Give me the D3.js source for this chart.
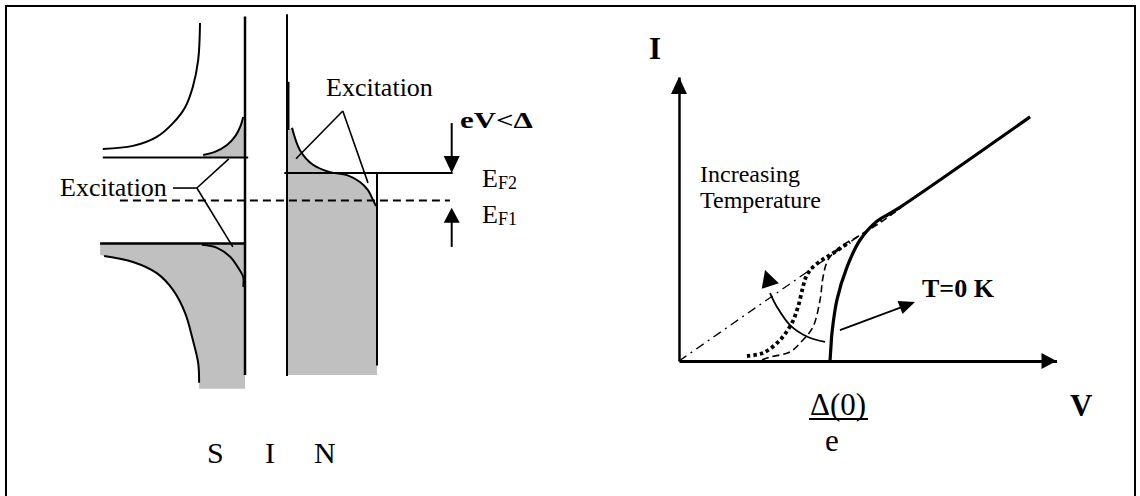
<!DOCTYPE html>
<html>
<head>
<meta charset="utf-8">
<script src="https://cdn.jsdelivr.net/npm/d3@7"></script>
<style>
  body { margin: 0; background: #fff; }
  svg text { font-family: "Liberation Serif", "Times New Roman", serif; fill: #000; }
</style>
</head>
<body>
<div id="canvas"></div>
<script>
// ---- Left panel: S-I-N energy diagram (dos units, energy in units of the gap) ----
// [dos, E] pairs on the superconductor side
const sUpperDos = [[1.00, 4.13], [1.04, 3.27], [1.16, 2.64], [1.33, 2.17], [1.60, 1.80], [1.96, 1.48], [2.49, 1.27], [3.16, 1.20]];
const sLowerDos = [[3.13, -1.29], [2.49, -1.43], [1.96, -1.69], [1.60, -2.08], [1.33, -2.62], [1.16, -3.24], [1.04, -3.78], [1.02, -4.24]];
const sUpperExc = [[0.93, 1.06], [0.67, 1.13], [0.40, 1.29], [0.20, 1.52], [0.09, 1.76], [0.04, 1.94]];
const sLowerExc = [[0.96, -1.03], [0.62, -1.10], [0.33, -1.31], [0.16, -1.55], [0.04, -1.78], [0.04, -2.01]];
// [occupancy, E] pairs on the normal metal side
const nFermi = [[0.056, 1.69], [0.144, 1.17], [0.289, 0.83], [0.478, 0.66], [0.667, 0.59], [0.811, 0.43], [0.900, 0.24], [0.956, 0.01], [0.989, -0.13]];
const eF1 = 0, eF2 = 0.64;
const bandTop = 4.28, bandBottomS = -4.38, bandBottomN = -4.06;

// ---- Right panel: I-V curves (V in units of Delta(0)/e) ----
const ohmic = [[0, 0], [2.325, 1.616]];
const curveT0 = [[1.000, 0], [1.007, 0.106], [1.013, 0.185], [1.046, 0.404], [1.113, 0.623], [1.199, 0.801], [1.311, 0.925], [1.444, 1.005], [2.325, 1.616]];
const curveT1 = [[0.550, 0.007], [0.603, 0.026], [0.735, 0.060], [0.821, 0.139], [0.887, 0.225], [0.934, 0.404], [0.954, 0.556], [0.987, 0.669], [1.066, 0.755], [1.179, 0.821], [1.331, 0.915], [1.497, 1.036]];
const curveT2 = [[0.450, 0.033], [0.556, 0.053], [0.669, 0.139], [0.748, 0.252], [0.788, 0.358], [0.821, 0.490], [0.841, 0.556], [0.881, 0.616], [0.947, 0.669], [1.013, 0.709], [1.132, 0.788]];
const tempArrow = [[0.967, 0.126], [0.854, 0.159], [0.735, 0.238], [0.649, 0.358], [0.603, 0.450], [0.570, 0.603]];
const t0Arrow = [[1.066, 0.205], [1.563, 0.391]];

const width = 1140, height = 496;
const svg = d3.select("#canvas").append("svg")
    .attr("width", width).attr("height", height);

svg.append("rect").attr("x", 6).attr("y", 6).attr("width", 1129).attr("height", 520)
    .attr("fill", "#fff").attr("stroke", "#000").attr("stroke-width", 2);

const gray = "#c0c0c0";

function arrowHead(g, tip, from, len, half) {
    const dx = tip[0] - from[0], dy = tip[1] - from[1];
    const L = Math.hypot(dx, dy), ux = dx / L, uy = dy / L;
    const bx = tip[0] - ux * len, by = tip[1] - uy * len;
    g.append("path")
        .attr("d", `M${tip[0]},${tip[1]}L${bx - uy * half},${by + ux * half}L${bx + uy * half},${by - ux * half}Z`)
        .attr("fill", "#000");
}

// Left panel scales
const yE = d3.scaleLinear().domain([-1, 1]).range([243.5, 157.5]);
const xS = d3.scaleLinear().domain([0, 1]).range([245, 200]);
const xN = d3.scaleLinear().domain([0, 1]).range([287, 377]);
const lineS = d3.line().x(d => xS(d[0])).y(d => yE(d[1])).curve(d3.curveCatmullRom);
const lineN = d3.line().x(d => xN(d[0])).y(d => yE(d[1])).curve(d3.curveCatmullRom);

const left = svg.append("g");

// Gray filled states
left.append("path")
    .attr("d", lineS(sUpperExc) + `L${xS(0)},${yE(1)}L${xS(0.93)},${yE(1)}Z`)
    .attr("fill", gray);
left.append("path")
    .attr("d", `M${xS(3.22)},${yE(-1)}L${xS(0)},${yE(-1)}L${xS(0)},${yE(bandBottomS)}L${xS(1.02)},${yE(bandBottomS)}`
        + lineS(sLowerDos.slice().reverse()).replace("M", "L") + `L${xS(3.22)},${yE(-1.27)}Z`)
    .attr("fill", gray);
left.append("path")
    .attr("d", `M${xN(0)},${yE(1.62)}` + lineN(nFermi).replace("M", "L")
        + `L${xN(1)},${yE(bandBottomN)}L${xN(0)},${yE(bandBottomN)}Z`)
    .attr("fill", gray);

// Density of states curves
[sUpperDos, sLowerDos, sUpperExc, sLowerExc].forEach(d => {
    left.append("path").attr("d", lineS(d)).attr("fill", "none")
        .attr("stroke", "#000").attr("stroke-width", 2);
});
left.append("path").attr("d", lineN(nFermi)).attr("fill", "none")
    .attr("stroke", "#000").attr("stroke-width", 2);

// Gap edges, barriers, walls
const seg = (x1, y1, x2, y2, w) => left.append("line")
    .attr("x1", x1).attr("y1", y1).attr("x2", x2).attr("y2", y2)
    .attr("stroke", "#000").attr("stroke-width", w);
seg(xS(3.16), yE(1), xS(-0.07), yE(1), 2);
seg(xS(3.22), yE(-1), xS(0), yE(-1), 2.5);
seg(xS(0), yE(bandTop), xS(0), yE(-4.06), 2.5);
seg(xN(0), yE(4.33), xN(0), yE(-4.08), 2);
seg(xN(0) + 1, yE(2.76), xN(0) + 1, yE(1.64), 3);
seg(xN(1), yE(0.66), xN(1), yE(-3.84), 2);
seg(xN(-0.03), yE(eF2), xN(1.84), yE(eF2), 2);
seg(xS(2.78), yE(eF1), xN(1.81), yE(eF1), 2).attr("stroke-dasharray", "8,5");

// eV arrows
const ax = xN(1.83);
seg(ax, yE(1.80), ax, yE(eF2) - 10, 2);
arrowHead(left, [ax, yE(eF2)], [ax, yE(1.80)], 17, 8);
seg(ax, yE(-1.08), ax, yE(-0.17) + 10, 2);
arrowHead(left, [ax, yE(-0.17)], [ax, yE(-1.08)], 15, 8);

// Excitation leaders
seg(xS(1.6), yE(0.29), xS(1.07), yE(0.29), 1.6);
seg(xS(1.07), yE(0.29), xS(0.36), yE(0.97), 1.6);
seg(xS(1.07), yE(0.29), xS(0.27), yE(-1.08), 1.6);
seg(xN(0.62), yE(2.08), xN(0.10), yE(0.97), 1.6);
seg(xN(0.62), yE(2.08), xN(0.90), yE(0.41), 1.6);

left.append("text").attr("x", 60).attr("y", 196).attr("font-size", 26).text("Excitation");
left.append("text").attr("x", 326).attr("y", 96).attr("font-size", 26).text("Excitation");
left.append("text").attr("x", 460).attr("y", 128).attr("font-size", 24).attr("font-weight", "bold")
    .attr("textLength", 73).attr("lengthAdjust", "spacingAndGlyphs").text("eV<Δ");
const ef2 = left.append("text").attr("x", 482).attr("y", 187).attr("font-size", 26);
ef2.append("tspan").text("E");
ef2.append("tspan").attr("font-size", 18).attr("dy", 2).text("F2");
const ef1 = left.append("text").attr("x", 482).attr("y", 223).attr("font-size", 26);
ef1.append("tspan").text("E");
ef1.append("tspan").attr("font-size", 18).attr("dy", 2).text("F1");
[["S", 207], ["I", 265], ["N", 314]].forEach(([t, x]) => {
    left.append("text").attr("x", x).attr("y", 463).attr("font-size", 30).text(t);
});

// ---- Right panel ----
const xV = d3.scaleLinear().domain([0, 2.5]).range([679, 1056.5]);
const yI = d3.scaleLinear().domain([0, 1.88]).range([361, 77]);
const right = svg.append("g");

right.append("g").attr("transform", `translate(0,${yI(0)})`)
    .call(d3.axisBottom(xV).ticks(0).tickSizeOuter(0))
    .call(g => g.select(".domain").attr("stroke-width", 2.8));
right.append("g").attr("transform", `translate(${xV(0)},0)`)
    .call(d3.axisLeft(yI).ticks(0).tickSizeOuter(0))
    .call(g => g.select(".domain").attr("stroke-width", 2.5));
arrowHead(right, [xV(2.5), yI(0)], [xV(0), yI(0)], 15, 8);
arrowHead(right, [xV(0), yI(1.88)], [xV(0), yI(0)], 17, 8);

const lineIV = d3.line().x(d => xV(d[0])).y(d => yI(d[1])).curve(d3.curveCatmullRom);
right.append("path").attr("d", lineIV(ohmic)).attr("fill", "none")
    .attr("stroke", "#000").attr("stroke-width", 1.3).attr("stroke-dasharray", "9,5,2,5");
right.append("path").attr("d", lineIV(curveT1)).attr("fill", "none")
    .attr("stroke", "#000").attr("stroke-width", 1.6).attr("stroke-dasharray", "7,4");
right.append("path").attr("d", lineIV(curveT2)).attr("fill", "none")
    .attr("stroke", "#000").attr("stroke-width", 3.8).attr("stroke-dasharray", "3.5,3");
right.append("path").attr("d", lineIV(curveT0)).attr("fill", "none")
    .attr("stroke", "#000").attr("stroke-width", 3.2);

// Increasing temperature arrow
right.append("path").attr("d", lineIV(tempArrow.slice(0, -1))).attr("fill", "none")
    .attr("stroke", "#000").attr("stroke-width", 1.8);
const ta = tempArrow.map(d => [xV(d[0]), yI(d[1])]);
arrowHead(right, ta[ta.length - 1], ta[ta.length - 3], 17, 9);

const t0a = t0Arrow.map(d => [xV(d[0]), yI(d[1])]);
right.append("line").attr("x1", t0a[0][0]).attr("y1", t0a[0][1])
    .attr("x2", t0a[1][0] - 10).attr("y2", t0a[1][1] + 4)
    .attr("stroke", "#000").attr("stroke-width", 1.8);
arrowHead(right, t0a[1], t0a[0], 16, 7);

right.append("text").attr("x", 649).attr("y", 59).attr("font-size", 31).attr("font-weight", "bold").text("I");
right.append("text").attr("x", 1070).attr("y", 416).attr("font-size", 31).attr("font-weight", "bold").text("V");
right.append("text").attr("x", 700).attr("y", 182).attr("font-size", 24).text("Increasing");
right.append("text").attr("x", 700).attr("y", 208).attr("font-size", 24).text("Temperature");
right.append("text").attr("x", 922).attr("y", 297).attr("font-size", 26).attr("font-weight", "bold").text("T=0 K");
right.append("text").attr("x", 810).attr("y", 415).attr("font-size", 31).text("Δ(0)");
right.append("line").attr("x1", 809).attr("x2", 868).attr("y1", 419).attr("y2", 419)
    .attr("stroke", "#000").attr("stroke-width", 2);
right.append("text").attr("x", 825).attr("y", 451).attr("font-size", 31).text("e");
</script>
</body>
</html>
